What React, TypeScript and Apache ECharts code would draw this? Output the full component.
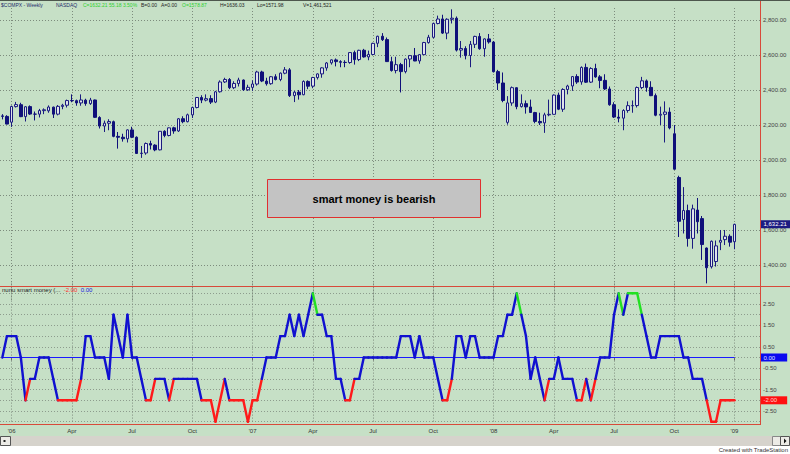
import React, { useEffect, useRef } from "react";
import * as echarts from "echarts";

// Week-ending dates (weekly bars), Dec 2005 .. Jan 2009
const WEEKS: string[] = [
  "2005-12-23", "2005-12-30",
  "2006-01-06", "2006-01-13", "2006-01-20", "2006-01-27", "2006-02-03", "2006-02-10", "2006-02-17", "2006-02-24", "2006-03-03", "2006-03-10", "2006-03-17", "2006-03-24", "2006-03-31",
  "2006-04-07", "2006-04-14", "2006-04-21", "2006-04-28", "2006-05-05", "2006-05-12", "2006-05-19", "2006-05-26", "2006-06-02", "2006-06-09", "2006-06-16", "2006-06-23", "2006-06-30",
  "2006-07-07", "2006-07-14", "2006-07-21", "2006-07-28", "2006-08-04", "2006-08-11", "2006-08-18", "2006-08-25", "2006-09-01", "2006-09-08", "2006-09-15", "2006-09-22", "2006-09-29",
  "2006-10-06", "2006-10-13", "2006-10-20", "2006-10-27", "2006-11-03", "2006-11-10", "2006-11-17", "2006-11-24", "2006-12-01", "2006-12-08", "2006-12-15", "2006-12-22", "2006-12-29",
  "2007-01-05", "2007-01-12", "2007-01-19", "2007-01-26", "2007-02-02", "2007-02-09", "2007-02-16", "2007-02-23", "2007-03-02", "2007-03-09", "2007-03-16", "2007-03-23", "2007-03-30",
  "2007-04-06", "2007-04-13", "2007-04-20", "2007-04-27", "2007-05-04", "2007-05-11", "2007-05-18", "2007-05-25", "2007-06-01", "2007-06-08", "2007-06-15", "2007-06-22", "2007-06-29",
  "2007-07-06", "2007-07-13", "2007-07-20", "2007-07-27", "2007-08-03", "2007-08-10", "2007-08-17", "2007-08-24", "2007-08-31", "2007-09-07", "2007-09-14", "2007-09-21", "2007-09-28",
  "2007-10-05", "2007-10-12", "2007-10-19", "2007-10-26", "2007-11-02", "2007-11-09", "2007-11-16", "2007-11-23", "2007-11-30", "2007-12-07", "2007-12-14", "2007-12-21", "2007-12-28",
  "2008-01-04", "2008-01-11", "2008-01-18", "2008-01-25", "2008-02-01", "2008-02-08", "2008-02-15", "2008-02-22", "2008-02-29", "2008-03-07", "2008-03-14", "2008-03-21", "2008-03-28",
  "2008-04-04", "2008-04-11", "2008-04-18", "2008-04-25", "2008-05-02", "2008-05-09", "2008-05-16", "2008-05-23", "2008-05-30", "2008-06-06", "2008-06-13", "2008-06-20", "2008-06-27",
  "2008-07-04", "2008-07-11", "2008-07-18", "2008-07-25", "2008-08-01", "2008-08-08", "2008-08-15", "2008-08-22", "2008-08-29", "2008-09-05", "2008-09-12", "2008-09-19", "2008-09-26",
  "2008-10-03", "2008-10-10", "2008-10-17", "2008-10-24", "2008-10-31", "2008-11-07", "2008-11-14", "2008-11-21", "2008-11-28", "2008-12-05", "2008-12-12", "2008-12-19", "2008-12-26",
  "2009-01-02",
];
// empty space to the right of the last bar
const FUTURE_WEEKS: string[] = ["2009-01-09", "2009-01-16", "2009-01-23", "2009-01-30", "2009-02-06"];

const OPEN: number[] = [
  2252, 2249,
  2216, 2305, 2316, 2248, 2305, 2262, 2262, 2282, 2281, 2302, 2262, 2306, 2313,
  2340, 2339, 2326, 2342, 2322, 2343, 2243, 2194, 2210, 2219, 2135, 2130, 2121,
  2172, 2130, 2037, 2040, 2094, 2085, 2058, 2164, 2140, 2184, 2166, 2236, 2219,
  2258, 2300, 2357, 2342, 2351, 2331, 2390, 2446, 2460, 2413, 2437, 2457, 2401,
  2415, 2434, 2503, 2451, 2436, 2476, 2460, 2496, 2515, 2368, 2388, 2373, 2449,
  2422, 2471, 2492, 2526, 2555, 2572, 2562, 2558, 2557, 2614, 2574, 2627, 2589,
  2603, 2667, 2707, 2688, 2562, 2511, 2545, 2505, 2577, 2596, 2566, 2602, 2671,
  2701, 2780, 2806, 2725, 2804, 2810, 2628, 2637, 2597, 2661, 2706, 2636, 2692,
  2674, 2505, 2440, 2215, 2326, 2413, 2305, 2322, 2303, 2271, 2220, 2212, 2258,
  2261, 2371, 2290, 2403, 2423, 2477, 2446, 2529, 2445, 2523, 2475, 2455, 2406,
  2316, 2245, 2239, 2283, 2310, 2311, 2414, 2452, 2415, 2368, 2256, 2261, 2274,
  2150, 1900, 1660, 1711, 1552, 1714, 1665, 1497, 1390, 1420, 1530, 1545, 1564,
  1533,
];
const HIGH: number[] = [
  2262, 2256,
  2311, 2332, 2327, 2308, 2312, 2277, 2292, 2295, 2312, 2305, 2314, 2321, 2345,
  2375, 2345, 2375, 2350, 2355, 2345, 2250, 2225, 2233, 2225, 2160, 2150, 2175,
  2190, 2135, 2080, 2100, 2110, 2090, 2165, 2170, 2185, 2190, 2240, 2250, 2265,
  2305, 2360, 2370, 2375, 2370, 2395, 2455, 2470, 2468, 2450, 2470, 2460, 2430,
  2455, 2510, 2510, 2470, 2480, 2490, 2500, 2531, 2525, 2395, 2400, 2455, 2455,
  2475, 2495, 2530, 2560, 2575, 2580, 2570, 2570, 2615, 2625, 2630, 2635, 2625,
  2670, 2710, 2725, 2700, 2590, 2590, 2555, 2580, 2600, 2640, 2605, 2675, 2715,
  2785, 2825, 2830, 2810, 2861, 2820, 2680, 2650, 2680, 2710, 2725, 2695, 2720,
  2680, 2515, 2500, 2365, 2420, 2415, 2375, 2340, 2345, 2275, 2270, 2270, 2345,
  2375, 2385, 2410, 2430, 2480, 2490, 2535, 2551, 2530, 2550, 2485, 2490, 2420,
  2330, 2290, 2290, 2335, 2340, 2420, 2475, 2460, 2450, 2380, 2305, 2335, 2300,
  2200, 1910, 1845, 1745, 1745, 1783, 1680, 1500, 1540, 1540, 1600, 1600, 1575,
  1636,
];
const LOW: number[] = [
  2232, 2204,
  2189, 2300, 2245, 2220, 2258, 2226, 2243, 2262, 2270, 2240, 2255, 2290, 2300,
  2330, 2310, 2310, 2310, 2315, 2240, 2180, 2160, 2170, 2130, 2065, 2105, 2100,
  2125, 2035, 2012, 2030, 2060, 2050, 2055, 2130, 2135, 2150, 2160, 2210, 2215,
  2240, 2295, 2325, 2335, 2320, 2325, 2385, 2440, 2405, 2405, 2420, 2395, 2395,
  2395, 2425, 2445, 2425, 2430, 2455, 2450, 2490, 2360, 2331, 2345, 2370, 2405,
  2410, 2460, 2470, 2510, 2545, 2535, 2530, 2530, 2550, 2545, 2565, 2585, 2570,
  2600, 2645, 2680, 2560, 2505, 2495, 2386, 2495, 2530, 2565, 2550, 2600, 2665,
  2695, 2775, 2720, 2690, 2780, 2620, 2585, 2575, 2530, 2640, 2630, 2590, 2665,
  2500, 2400, 2330, 2202, 2310, 2290, 2300, 2265, 2270, 2210, 2200, 2155, 2250,
  2260, 2285, 2275, 2375, 2395, 2435, 2430, 2440, 2440, 2470, 2410, 2400, 2310,
  2240, 2215, 2170, 2270, 2270, 2300, 2405, 2390, 2365, 2250, 2200, 2100, 2175,
  1945, 1560, 1580, 1505, 1493, 1580, 1429, 1295, 1380, 1391, 1485, 1514, 1505,
  1490,
];
const CLOSE: number[] = [
  2249.42, 2205.32,
  2305.62, 2316.69, 2247.70, 2304.23, 2262.58, 2261.88, 2282.36, 2287.04, 2302.60, 2262.04, 2306.48, 2312.82, 2339.79,
  2339.02, 2326.11, 2342.86, 2322.57, 2342.57, 2243.78, 2193.88, 2210.37, 2219.86, 2135.06, 2129.95, 2121.47, 2172.09,
  2130.06, 2037.35, 2039.42, 2094.14, 2085.05, 2057.71, 2163.95, 2140.29, 2183.75, 2165.79, 2235.59, 2218.93, 2258.43,
  2299.99, 2357.29, 2342.30, 2350.62, 2330.79, 2389.72, 2445.86, 2460.26, 2413.21, 2437.36, 2457.20, 2401.18, 2415.29,
  2434.25, 2502.82, 2451.31, 2435.49, 2475.88, 2459.82, 2496.31, 2515.10, 2368.00, 2387.55, 2372.66, 2448.93, 2421.64,
  2471.34, 2491.94, 2526.39, 2554.46, 2572.15, 2562.22, 2558.45, 2557.19, 2613.92, 2573.54, 2626.71, 2588.96, 2603.23,
  2666.51, 2707.00, 2687.60, 2562.24, 2511.25, 2544.89, 2505.03, 2576.69, 2596.36, 2565.70, 2602.18, 2671.22, 2701.50,
  2780.32, 2805.68, 2725.16, 2804.19, 2810.38, 2627.94, 2637.24, 2596.60, 2660.96, 2706.16, 2635.74, 2691.99, 2674.46,
  2504.65, 2439.94, 2340.02, 2326.20, 2413.36, 2304.85, 2321.80, 2303.35, 2271.48, 2220.50, 2212.49, 2258.11, 2261.18,
  2370.98, 2290.24, 2402.97, 2422.93, 2476.67, 2445.52, 2528.85, 2444.67, 2522.66, 2474.56, 2454.50, 2406.09, 2315.63,
  2245.38, 2239.08, 2282.78, 2310.53, 2310.96, 2414.10, 2452.52, 2414.71, 2367.52, 2255.88, 2261.27, 2273.90, 2183.34,
  1947.39, 1649.51, 1711.29, 1552.03, 1720.95, 1647.40, 1516.85, 1384.35, 1535.57, 1509.31, 1540.72, 1564.32, 1530.24,
  1632.21,
];
// "nunu smart money" indicator, one value per weekly bar
const SMART: number[] = [
  0, 1,
  1, 1, 0, -2, -1, -1, 0, 0, 0, -1, -2, -2, -2,
  -2, -2, -1, 1, 1, 0, 0, 0, -1, 2, 1, 0, 2,
  0, 0, -1, -2, -2, -1, -1, -1, -2, -1, -1, -1, -1,
  -1, -1, -2, -2, -2, -3, -2, -1, -2, -2, -2, -2, -3,
  -2, -2, -1, 0, 0, 0, 1, 1, 2, 1, 2, 1, 2,
  3, 2, 2, 1, 1, -1, -1, -2, -2, -1, -1, 0, 0,
  0, 0, 0, 0, 0, 0, 1, 1, 1, 0, 1, 0, 0,
  0, -1, -2, -2, -1, 1, 1, 0, 1, 1, 0, 0, 0,
  0, 1, 1, 2, 2, 3, 2, 1, -1, 0, -1, -2, -1,
  -1, 0, -1, -1, -1, -2, -2, -1, -2, -1, 0, 0, 0,
  2, 3, 2, 3, 3, 3, 2, 1, 0, 0, 1, 1, 1,
  1, 1, 0, 0, -1, -1, -1, -2, -3, -3, -2, -2, -2,
  -2,
];
const ZERO_LINE: number[] = WEEKS.map(() => 0);

const FONT = "'Liberation Sans', Arial, sans-serif";
const BG = "#c6e0c6";
const GRID_COLOR = "#7d8c7d";
const FRAME_RED = "#d84a3a";

const CATS = [...WEEKS, ...FUTURE_WEEKS];
const QUARTER_NAMES: Record<number, string> = { 4: "Apr", 7: "Jul", 10: "Oct" };
const monthOf = (s: string) => parseInt(s.slice(5, 7), 10);
const isQuarterStart = (i: number) => {
  if (i <= 0 || i >= CATS.length) return false;
  const m = monthOf(CATS[i]);
  if (m !== 1 && m !== 4 && m !== 7 && m !== 10) return false;
  return monthOf(CATS[i - 1]) !== m;
};
const quarterLabel = (v: string) => {
  const m = monthOf(v);
  if (m === 1) return "'" + v.slice(2, 4);
  return QUARTER_NAMES[m] || "";
};
const fmtPrice = (v: number) =>
  v.toLocaleString("en-US", { minimumFractionDigits: 2, maximumFractionDigits: 2 });

const HIDDEN_LINE = { width: 0, color: "rgba(0,0,0,0)" };

function valueBox(text: string, bg: string, fg: string, rightPad: number) {
  return {
    show: true,
    position: "end",
    distance: 0.5,
    formatter: () => text,
    backgroundColor: bg,
    color: fg,
    fontSize: 6,
    fontFamily: FONT,
    padding: [1, rightPad, 1, 3],
  };
}

function buildOption(): any {
  const candleData = WEEKS.map((_, i) => [OPEN[i], CLOSE[i], LOW[i], HIGH[i]]);
  const segData = SMART.slice(1).map((v, j) => [j + 1, SMART[j], v]);
  const lastClose = CLOSE[CLOSE.length - 1];
  const lastSmart = SMART[SMART.length - 1];

  const dotted = { color: GRID_COLOR, width: 1, type: [1, 2] as any };
  const hdr = (x: number, text: string, fill: string) => ({
    type: "text",
    x,
    y: 4.5,
    z: 45,
    style: { text, fill, font: `5px ${FONT}`, verticalAlign: "middle" },
  });

  return {
    animation: false,
    backgroundColor: BG,
    textStyle: { fontFamily: FONT },
    grid: [
      { left: 0, width: 760, top: 8, height: 292 },
      { left: 0, width: 760, top: 282.6, height: 139.1 },
    ],
    xAxis: [
      {
        type: "category",
        gridIndex: 0,
        data: CATS,
        boundaryGap: true,
        axisLine: { show: false },
        axisTick: { show: false },
        axisLabel: { show: false },
        splitLine: { show: true, interval: (i: number) => isQuarterStart(i), alignWithLabel: true, lineStyle: dotted },
      },
      {
        type: "category",
        gridIndex: 1,
        data: CATS,
        boundaryGap: true,
        offset: 3.3,
        axisLine: { show: false },
        axisTick: {
          show: true,
          interval: (i: number) => isQuarterStart(i),
          alignWithLabel: true,
          length: 3,
          lineStyle: { color: "#6a6a6a" },
        },
        axisLabel: {
          show: true,
          interval: (i: number) => isQuarterStart(i),
          formatter: (v: string) => quarterLabel(v),
          fontSize: 6,
          color: "#333",
          fontFamily: FONT,
          margin: 3,
        },
        splitLine: { show: true, interval: (i: number) => isQuarterStart(i), alignWithLabel: true, lineStyle: dotted },
      },
    ],
    yAxis: [
      {
        type: "value",
        gridIndex: 0,
        position: "right",
        min: 1200,
        max: 2868.57,
        interval: 200,
        axisLine: { show: false },
        axisTick: { show: false },
        axisLabel: {
          show: true,
          showMinLabel: false,
          showMaxLabel: false,
          formatter: (v: number) => fmtPrice(v),
          fontSize: 6,
          color: "#444",
          fontFamily: FONT,
          margin: 3,
        },
        splitLine: { show: true, showMinLine: false, showMaxLine: false, lineStyle: dotted },
      },
      {
        type: "value",
        gridIndex: 1,
        position: "right",
        min: -3,
        max: 3.5,
        interval: 0.5,
        axisLine: { show: false },
        axisTick: { show: false },
        axisLabel: {
          show: true,
          showMaxLabel: false,
          formatter: (v: number) => {
            const a = Math.round(Math.abs(v) * 2);
            return a % 2 === 1 ? v.toFixed(2) : "";
          },
          fontSize: 6,
          color: "#444",
          fontFamily: FONT,
          margin: 3,
        },
        splitLine: { show: true, showMaxLine: false, lineStyle: { color: "#8d9c8d", width: 1, type: [1, 2] } },
      },
    ],
    series: [
      {
        type: "candlestick",
        xAxisIndex: 0,
        yAxisIndex: 0,
        data: candleData,
        barWidth: 3,
        z: 3,
        itemStyle: {
          color: "#dfe3ea",
          color0: "#10107a",
          borderColor: "#1b1b80",
          borderColor0: "#10107a",
          borderWidth: 1,
        },
        markLine: {
          silent: true,
          symbol: "none",
          lineStyle: HIDDEN_LINE,
          data: [{ yAxis: lastClose, lineStyle: HIDDEN_LINE, label: valueBox(fmtPrice(lastClose), "#1c1c82", "#ffffff", 6) }],
        },
      },
      {
        type: "line",
        xAxisIndex: 1,
        yAxisIndex: 1,
        data: ZERO_LINE,
        symbol: "none",
        z: 2,
        itemStyle: { color: "#1a1aff" },
        lineStyle: { color: "#1a1aff", width: 1.2 },
        markLine: {
          silent: true,
          symbol: "none",
          lineStyle: HIDDEN_LINE,
          data: [
            { yAxis: 0, lineStyle: HIDDEN_LINE, label: valueBox("0.00", "#0a0af0", "#dfe4ff", 12) },
            { yAxis: lastSmart, lineStyle: HIDDEN_LINE, label: valueBox(lastSmart.toFixed(2), "#ff1010", "#ffd0d0", 10) },
          ],
        },
      },
      {
        type: "custom",
        xAxisIndex: 1,
        yAxisIndex: 1,
        z: 4,
        data: segData,
        encode: { x: 0, y: [1, 2] },
        renderItem: (_params: any, api: any) => {
          const i = api.value(0);
          const v0 = api.value(1);
          const v1 = api.value(2);
          const p0 = api.coord([i - 1, v0]);
          const p1 = api.coord([i, v1]);
          const color = v0 <= -2 ? "#ff1a1a" : v0 >= 3 ? "#22e022" : "#1010d0";
          return {
            type: "line",
            shape: { x1: p0[0], y1: p0[1], x2: p1[0], y2: p1[1] },
            style: { stroke: color, lineWidth: 2.4, lineCap: "round" },
          };
        },
      },
    ],
    graphic: [
      // top border
      { type: "line", shape: { x1: 0, y1: 0.5, x2: 790, y2: 0.5 }, style: { stroke: "#4d574d", lineWidth: 1 }, z: 50 },
      // right axis frame
      { type: "line", shape: { x1: 760.5, y1: 1, x2: 760.5, y2: 425 }, style: { stroke: FRAME_RED, lineWidth: 1 }, z: 50 },
      // pane divider and bottom frame
      { type: "line", shape: { x1: 0, y1: 286.5, x2: 790, y2: 286.5 }, style: { stroke: FRAME_RED, lineWidth: 1 }, z: 50 },
      { type: "line", shape: { x1: 0, y1: 424.5, x2: 760.5, y2: 424.5 }, style: { stroke: FRAME_RED, lineWidth: 1 }, z: 50 },
      // bottom scroll strip
      { type: "rect", shape: { x: 0, y: 436, width: 790, height: 10 }, style: { fill: "#d6d3cc" }, z: 40 },
      { type: "rect", shape: { x: 0, y: 446, width: 790, height: 8 }, style: { fill: "#ffffff" }, z: 40 },
      { type: "rect", shape: { x: 0.5, y: 436.5, width: 10, height: 9 }, style: { fill: "#ecebe6", stroke: "#555" }, z: 41 },
      { type: "rect", shape: { x: 3.5, y: 440, width: 2, height: 2 }, style: { fill: "#222" }, z: 42 },
      { type: "rect", shape: { x: 772.5, y: 436.5, width: 8, height: 9 }, style: { fill: "#ecebe6", stroke: "#888" }, z: 41 },
      { type: "rect", shape: { x: 780.5, y: 436.5, width: 9, height: 9 }, style: { fill: "#ecebe6", stroke: "#555" }, z: 41 },
      { type: "polygon", shape: { points: [[784, 438.5], [784, 443.5], [786.5, 441]] }, style: { fill: "#111" }, z: 42 },
      {
        type: "text",
        x: 788,
        y: 450,
        z: 42,
        style: { text: "Created with TradeStation", fill: "#333", font: `6px ${FONT}`, align: "right", verticalAlign: "middle" },
      },
      // header
      hdr(1, "$COMPX - Weekly", "#1e2a6a"),
      hdr(56, "NASDAQ", "#1e2a6a"),
      hdr(83, "C=1632.21 55.18 3.50%", "#2fd02f"),
      hdr(141, "B=0.00", "#222"),
      hdr(161, "A=0.00", "#222"),
      hdr(182, "O=1578.87", "#2fd02f"),
      hdr(220, "H=1636.03", "#222"),
      hdr(257, "Lo=1571.98", "#222"),
      hdr(303, "V=1,461,521", "#222"),
      // indicator title
      {
        type: "text",
        x: 2,
        y: 289.5,
        z: 45,
        style: {
          text: "{a|nunu smart money (...}  {r|-2.00}  {b|0.00}",
          font: `6px ${FONT}`,
          verticalAlign: "middle",
          rich: {
            a: { fill: "#222", font: `6px ${FONT}` },
            r: { fill: "#ff3030", font: `6px ${FONT}` },
            b: { fill: "#2020e0", font: `6px ${FONT}` },
          },
        },
      },
      // annotation box
      {
        type: "rect",
        shape: { x: 267.5, y: 179.5, width: 213, height: 38 },
        style: { fill: "#c3c3c3", stroke: "#e03030", lineWidth: 1 },
        z: 60,
      },
      {
        type: "text",
        x: 374,
        y: 199,
        z: 61,
        style: {
          text: "smart money is bearish",
          fill: "#000",
          font: `bold 11px ${FONT}`,
          align: "center",
          verticalAlign: "middle",
        },
      },
    ],
  };
}

export default function App() {
  const ref = useRef<HTMLDivElement>(null);
  useEffect(() => {
    document.body.style.margin = "0";
    const chart = echarts.init(ref.current!, null, { renderer: "svg" });
    chart.setOption(buildOption());
    return () => chart.dispose();
  }, []);
  return <div ref={ref} style={{ width: 790, height: 454, position: "fixed", left: 0, top: 0 }} />;
}
